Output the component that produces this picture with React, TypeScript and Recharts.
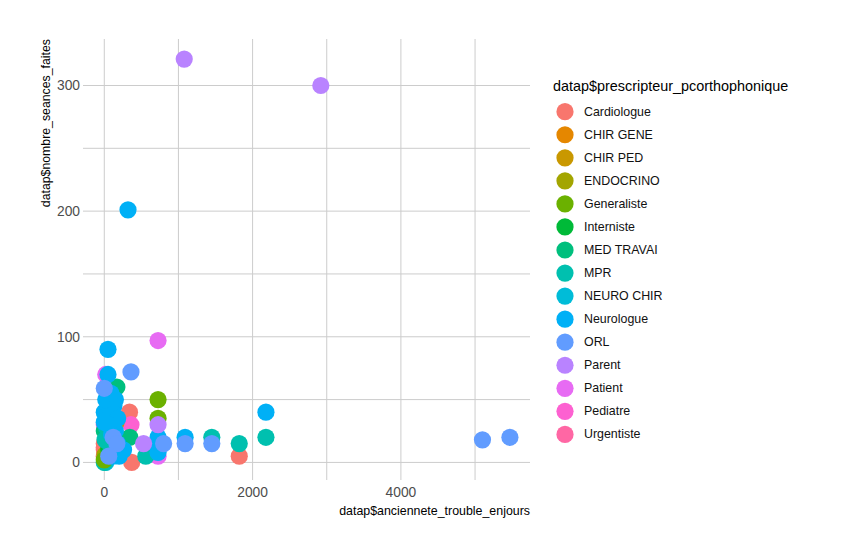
import React from 'react'
import { ScatterChart, Scatter, XAxis, YAxis, CartesianGrid, Legend, Label } from 'recharts'

interface Point {
    x: number,
    y: number
}

const categories: string[] = [
    'Cardiologue', 'CHIR GENE', 'CHIR PED', 'ENDOCRINO', 'Generaliste',
    'Interniste', 'MED TRAVAI', 'MPR', 'NEURO CHIR', 'Neurologue',
    'ORL', 'Parent', 'Patient', 'Pediatre', 'Urgentiste'
]
const colors: string[] = [
    '#F8766D', '#E58700', '#C99800', '#A3A500', '#6BB100',
    '#00BA38', '#00BF7D', '#00C0AF', '#00BCD8', '#00B0F6',
    '#619CFF', '#B983FF', '#E76BF3', '#FD61D1', '#FF67A4'
]
// order in which series are painted (later = on top), like row order in the source data
const drawOrder: number[] = [14, 12, 0, 13, 1, 3, 5, 8, 6, 2, 7, 4, 9, 10, 11]

const cardiologue: Point[] = [
    { x: 0, y: 10 }, { x: 0, y: 15 }, { x: 0, y: 5 }, { x: 340, y: 40 },
    { x: 370, y: 0 }, { x: 1820, y: 5 }
]
const chirGene: Point[] = [{ x: 50, y: 25 }]
const chirPed: Point[] = [{ x: 160, y: 32 }]
const endocrino: Point[] = [{ x: 10, y: 6 }]
const generaliste: Point[] = [{ x: 0, y: 2 }, { x: 725, y: 50 }, { x: 725, y: 35 }]
const interniste: Point[] = [{ x: 60, y: 10 }]
const medTravai: Point[] = [{ x: 170, y: 60 }, { x: 345, y: 20 }, { x: 0, y: 25 }]
const mpr: Point[] = [
    { x: 0, y: 0 }, { x: 10, y: 18 }, { x: 560, y: 5 }, { x: 1450, y: 20 },
    { x: 1820, y: 15 }, { x: 2180, y: 20 }, { x: 210, y: 8 }, { x: 30, y: 28 },
    { x: 90, y: 12 }
]
const neuroChir: Point[] = [{ x: 30, y: 40 }, { x: 20, y: 0 }]
const neurologue: Point[] = [
    { x: 50, y: 90 }, { x: 50, y: 70 }, { x: 0, y: 40 }, { x: 60, y: 45 },
    { x: 130, y: 45 }, { x: 150, y: 50 }, { x: 100, y: 40 }, { x: 20, y: 50 },
    { x: 180, y: 35 }, { x: 150, y: 25 }, { x: 120, y: 5 }, { x: 200, y: 5 },
    { x: 725, y: 20 }, { x: 725, y: 12 }, { x: 725, y: 8 }, { x: 1090, y: 20 },
    { x: 2180, y: 40 }, { x: 320, y: 201 }, { x: 60, y: 30 }, { x: 100, y: 22 },
    { x: 0, y: 32 }, { x: 180, y: 15 }, { x: 260, y: 10 }, { x: 90, y: 55 }
]
const orl: Point[] = [
    { x: 0, y: 59 }, { x: 360, y: 72 }, { x: 120, y: 20 }, { x: 170, y: 15 },
    { x: 800, y: 15 }, { x: 1090, y: 15 }, { x: 1450, y: 15 }, { x: 5100, y: 18 },
    { x: 5470, y: 20 }, { x: 60, y: 5 }
]
const parent: Point[] = [
    { x: 530, y: 15 }, { x: 725, y: 30 }, { x: 1078, y: 321 }, { x: 2920, y: 300 }
]
const patient: Point[] = [{ x: 725, y: 97 }, { x: 20, y: 70 }, { x: 725, y: 5 }]
const pediatre: Point[] = [{ x: 360, y: 30 }, { x: 0, y: 30 }]
const urgentiste: Point[] = [{ x: 0, y: 12 }]

const seriesData: Point[][] = [
    cardiologue, chirGene, chirPed, endocrino, generaliste,
    interniste, medTravai, mpr, neuroChir, neurologue,
    orl, parent, patient, pediatre, urgentiste
]

const xDomain: [number, number] = [-287, 5741]
const yDomain: [number, number] = [-14, 337]
const xTicks: number[] = [0, 1000, 2000, 3000, 4000, 5000]
const yTicks: number[] = [0, 50, 100, 150, 200, 250, 300]

const FONT = '"Liberation Sans", Arial, sans-serif'

const Dot = (props: any) => (
    <circle cx={props.cx} cy={props.cy} r={8.6} fill={props.fill} />
)

// grid only at the tick values (major + minor), not at the panel edges
const hGrid = ({ offset }: any) =>
    yTicks.map(t => offset.top + offset.height * (yDomain[1] - t) / (yDomain[1] - yDomain[0]))
const vGrid = ({ offset }: any) =>
    xTicks.map(t => offset.left + offset.width * (t - xDomain[0]) / (xDomain[1] - xDomain[0]))

const LegendBox = () => (
    <svg width={300} height={380}>
        <text x={23} y={16} dominantBaseline="central" fontSize={14.4} fill="#000" fontFamily={FONT}>
            datap$prescripteur_pcorthophonique
        </text>
        {categories.map((cat, i) => (
            <g key={cat}>
                <circle cx={35} cy={41.7 + i * 23.05} r={8.6} fill={colors[i]} />
                <text x={54} y={41.7 + i * 23.05} dominantBaseline="central" fontSize={12.4} fill="#111" fontFamily={FONT}>
                    {cat}
                </text>
            </g>
        ))}
    </svg>
)

const App: React.FC = () => {
    return (
        <div style={{ position: 'absolute', left: 0, top: 0, fontFamily: FONT }}>
            <ScatterChart width={848} height={557} margin={{ top: 39, right: 318, bottom: 57, left: 0 }}>
                <CartesianGrid
                    stroke="#cccccc"
                    strokeWidth={1}
                    horizontalCoordinatesGenerator={hGrid}
                    verticalCoordinatesGenerator={vGrid}
                />
                <XAxis
                    type="number"
                    dataKey="x"
                    domain={xDomain}
                    allowDataOverflow
                    ticks={xTicks}
                    tickFormatter={(v: number) => (v % 2000 === 0 ? String(v) : '')}
                    axisLine={false}
                    tickLine={false}
                    tickSize={0}
                    tickMargin={7}
                    height={20}
                    tick={{ fill: '#4D4D4D', fontSize: 13.8, fontFamily: FONT }}
                >
                    <Label
                        content={() => (
                            <text x={530} y={511} textAnchor="end" dominantBaseline="central" fontSize={12.4} fill="#000" fontFamily={FONT}>
                                datap$anciennete_trouble_enjours
                            </text>
                        )}
                    />
                </XAxis>
                <YAxis
                    type="number"
                    dataKey="y"
                    domain={yDomain}
                    allowDataOverflow
                    ticks={yTicks}
                    tickFormatter={(v: number) => (v % 100 === 0 ? String(v) : '')}
                    axisLine={false}
                    tickLine={false}
                    tickSize={0}
                    tickMargin={3}
                    width={83}
                    tick={{ fill: '#4D4D4D', fontSize: 13.8, fontFamily: FONT }}
                >
                    <Label
                        content={() => (
                            <text x={46} y={39} transform="rotate(-90 46 39)" textAnchor="end" dominantBaseline="central" fontSize={12.3} fill="#000" fontFamily={FONT}>
                                datap$nombre_seances_faites
                            </text>
                        )}
                    />
                </YAxis>
                {drawOrder.map(i => (
                    <Scatter
                        key={categories[i]}
                        name={categories[i]}
                        data={seriesData[i]}
                        fill={colors[i]}
                        shape={Dot}
                        isAnimationActive={false}
                    />
                ))}
                <Legend
                    layout="vertical"
                    align="center"
                    verticalAlign="middle"
                    wrapperStyle={{ left: 530, top: 70, width: 300, height: 380 }}
                    content={() => <LegendBox />}
                />
            </ScatterChart>
        </div>
    )
}

export default App
